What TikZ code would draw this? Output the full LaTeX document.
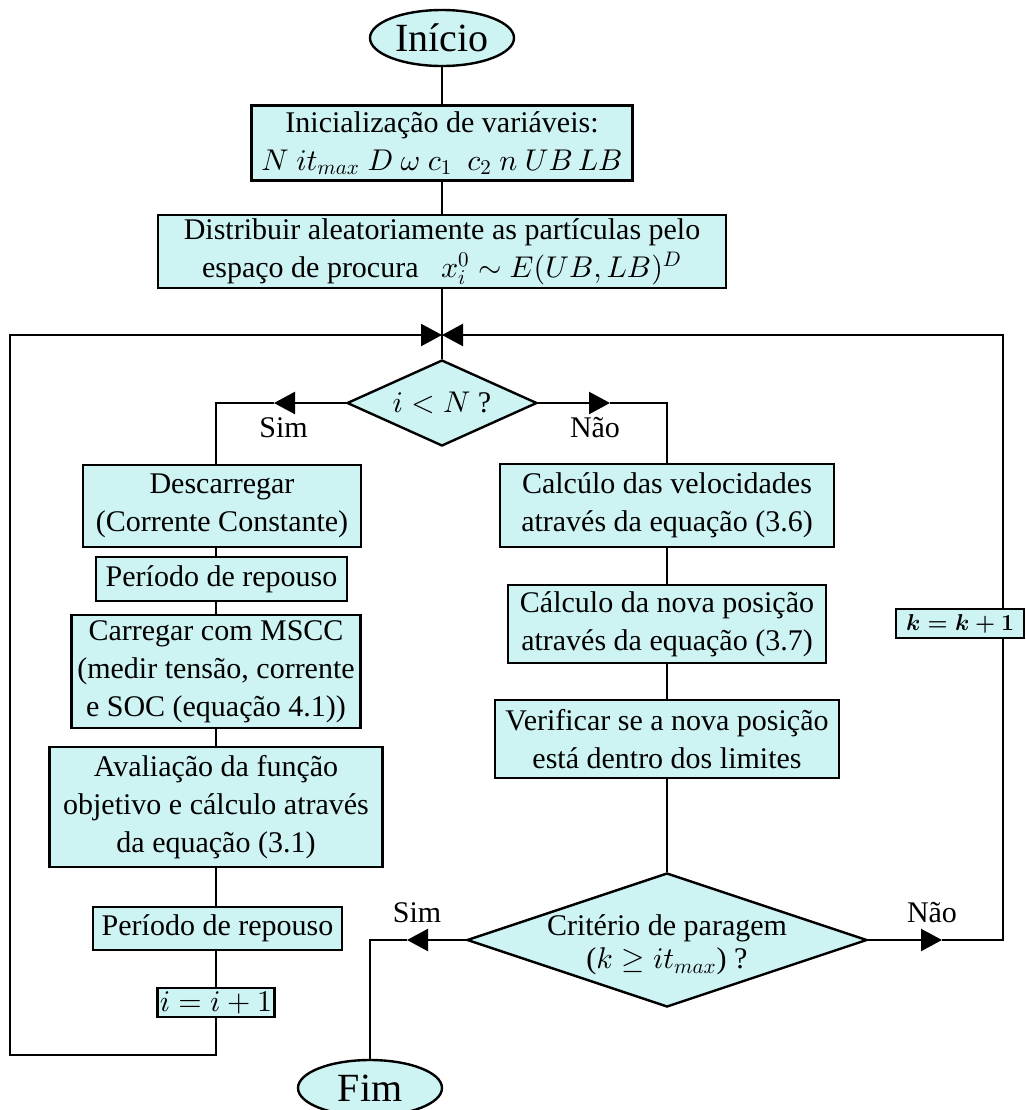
\documentclass[tikz,border=0pt]{standalone}
\usepackage{graphicx}
\usepackage[no-math]{fontspec}
\setmainfont{Liberation Serif}
\DeclareFontShape{OML}{cmm}{m}{it}{<->cmmi10}{}
\DeclareFontShape{OT1}{cmr}{m}{n}{<->cmr10}{}
\DeclareFontShape{OMS}{cmsy}{m}{n}{<->cmsy10}{}
\usetikzlibrary{shapes.geometric,arrows.meta}
\definecolor{boxc}{RGB}{205,243,242}
\tikzset{
  base/.style={draw, fill=boxc, line width=1.2pt, inner sep=1pt, align=center, font=\fontsize{15}{19}\selectfont},
  proc/.style={base, rectangle},
  term/.style={base, ellipse, inner sep=0pt, font=\fontsize{20}{24}\selectfont},
  dec/.style={base, diamond, inner sep=0pt},
  dtext/.style={align=center, inner sep=0pt, font=\fontsize{15}{16.5}\selectfont},
  lab/.style={inner sep=0pt, font=\fontsize{15}{18}\selectfont},
  conn/.style={line width=1.2pt},
  tipline/.style={conn, -{Triangle[length=10.5pt,width=11pt]}},
}
\begin{document}
\begin{tikzpicture}[x=0.5pt,y=-0.5pt]
\useasboundingbox (0,0) rectangle (1025,1110);

% coordinates for connector corners
\coordinate (M) at (442,335);
\coordinate (lx) at (10,335);
\coordinate (lb) at (10,1055);
\coordinate (rx) at (1003,335);
\coordinate (lc) at (216,403);
\coordinate (rc) at (667,403);
\coordinate (aL) at (274,403);
\coordinate (aR) at (610,403);
\coordinate (aS) at (407,940);
\coordinate (aN) at (942,940);

% main column
\node[term, minimum width=72pt, minimum height=28pt] (ini) at (442,38) {Início};
\node[proc, minimum width=190.5pt, minimum height=37.5pt] (init) at (442,143)
  {Inicialização de variáveis:\\ $N$ $it_{max}$ $D$ $\omega$ $c_1$~ $c_2$ $n$ $UB\,LB$};
\node[proc, minimum width=284pt, minimum height=36.5pt] (dist) at (442,251.5)
  {Distribuir aleatoriamente as partículas pelo\\ espaço de procura~~ $x_i^0\sim E(UB,LB)^D$};
\node[dec, minimum width=95pt, minimum height=43pt] (d1) at (442,403) {};
\node[dtext] (d1t) at (d1.center) {$i<N$ ?};

% left column
\node[proc, minimum width=139pt, minimum height=41pt] (desc) at (222,506)
  {Descarregar\\(Corrente Constante)};
\node[proc, minimum width=125.5pt, minimum height=22pt] (rep1) at (221.5,579)
  {Período de repouso};
\node[proc, minimum width=144.5pt, minimum height=56.5pt] (carr) at (216,671.5)
  {Carregar com MSCC\\(medir tensão, corrente\\e SOC (equação 4.1))};
\node[proc, minimum width=166.5pt, minimum height=60pt] (aval) at (216,807)
  {Avaliação da função\\objetivo e cálculo através\\da equação (3.1)};
\node[proc, minimum width=124.5pt, minimum height=21.5pt] (rep2) at (217.5,928.5)
  {Período de repouso};
\node[proc, minimum width=58.5pt, minimum height=14.5pt, inner sep=0.5pt] (inc) at (216,1002.5)
  {$i=i+1$};

% right column
\node[proc, minimum width=167pt, minimum height=41.5pt] (vel) at (667,505.5)
  {Calcúlo das velocidades\\através da equação (3.6)};
\node[proc, minimum width=159pt, minimum height=39pt] (pos) at (667,624)
  {Cálculo da nova posição\\através da equação (3.7)};
\node[proc, minimum width=172pt, minimum height=39pt] (ver) at (667,739)
  {Verificar se a nova posição\\está dentro dos limites};
\node[dec, minimum width=200pt, minimum height=67pt] (d2) at (667,940) {};
\node[dtext] (d2t) at ([yshift=-2.5pt]d2.center) {Critério de paragem\\($k\geq it_{max}$) ?};
\node[term, minimum width=72pt, minimum height=28pt] (fim) at (370,1088) {Fim};
\node[proc, minimum width=64pt, minimum height=14.5pt, inner sep=0.5pt, font=\fontsize{12}{14}\selectfont\boldmath] (kb) at (960,623.5) {\resizebox{54pt}{!}{$k=k+1$}};

% labels
\node[lab] (sim1) at (283.5,428) {Sim};
\node[lab] (nao1) at (595,428) {Não};
\node[lab] (sim2) at (417,913) {Sim};
\node[lab] (nao2) at (932,913) {Não};

% connectors
\draw[conn] (ini) -- (init);
\draw[conn] (init) -- (dist);
\draw[conn] (dist) -- (d1);

\draw[tipline] (d1.west) -- (aL);
\draw[conn] (aL) -- (lc) -- (desc.north -| lc);
\draw[tipline] (d1.east) -- (aR);
\draw[conn] (aR) -- (rc) -- (vel.north);

\draw[conn] (desc.south -| lc) -- (rep1.north -| lc);
\draw[conn] (rep1.south -| lc) -- (carr.north -| lc);
\draw[conn] (carr.south -| lc) -- (aval.north -| lc);
\draw[conn] (aval.south -| lc) -- (rep2.north -| lc);
\draw[conn] (rep2.south -| lc) -- (inc.north -| lc);
\draw[tipline] (inc.south -| lc) -- (lc |- lb) -- (lb) -- (lx) -- (M);

\draw[conn] (vel) -- (pos);
\draw[conn] (pos) -- (ver);
\draw[conn] (ver) -- (d2);

\draw[tipline] (d2.west) -- (aS);
\draw[conn] (aS) -- (fim.north |- d2.west) -- (fim.north);
\draw[tipline] (d2.east) -- (aN);
\draw[conn] (aN) -- (rx |- d2.east) -- (kb.south -| rx);
\draw[tipline] (kb.north -| rx) -- (rx) -- (M);
\end{tikzpicture}
\end{document}
